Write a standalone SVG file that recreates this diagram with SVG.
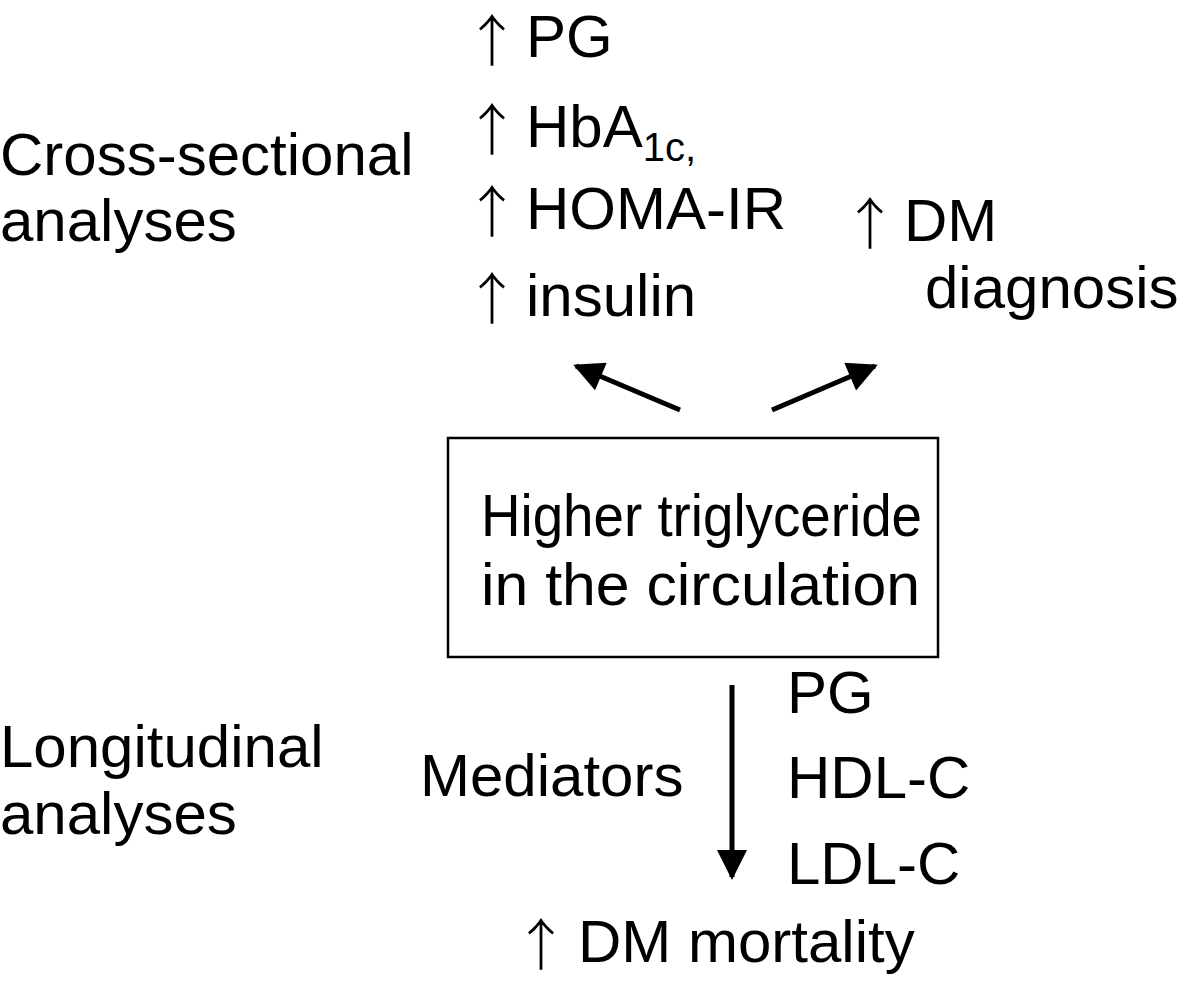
<svg xmlns="http://www.w3.org/2000/svg" width="1181" height="984" viewBox="0 0 1181 984">
<defs>
<style>
text{font-family:"Liberation Sans",Arial,sans-serif;font-size:60px;fill:#000}
.ar{font-family:"Noto Sans CJK JP","Noto Sans CJK SC",sans-serif;font-size:56px;font-weight:200;text-anchor:middle}
.sub{font-size:40px}
.conn{stroke:#000;stroke-width:5;fill:none}
</style>
<marker id="ah" viewBox="0 0 10 10" refX="9" refY="5" markerWidth="6.4" markerHeight="6" markerUnits="strokeWidth" orient="auto"><path d="M0,0L10,5L0,10Z" fill="#000"/></marker>
</defs>
<rect width="1181" height="984" fill="#fff"/>
<g id="cross-label"><text x="0" y="175">Cross-sectional</text><text x="0" y="241">analyses</text></g>
<g id="long-label"><text x="0" y="767">Longitudinal</text><text x="0" y="834">analyses</text></g>
<g id="markers-up">
<text class="ar" x="492" y="61">↑</text><text x="526" y="57">PG</text>
<text class="ar" x="492" y="150">↑</text><text x="526" y="147">HbA<tspan class="sub" dy="14">1c,</tspan></text>
<text class="ar" x="492" y="232">↑</text><text x="526" y="229">HOMA-IR</text>
<text class="ar" x="492" y="319">↑</text><text x="526" y="316">insulin</text>
</g>
<g id="dm-diag"><text class="ar" x="870" y="244">↑</text><text x="904" y="241">DM</text><text x="925" y="308">diagnosis</text></g>
<g id="tg"><rect x="448" y="438" width="490" height="219" fill="#fff" stroke="#000" stroke-width="2.5"/>
<text x="481" y="536" textLength="441" lengthAdjust="spacingAndGlyphs">Higher triglyceride</text><text x="481" y="605" textLength="439" lengthAdjust="spacingAndGlyphs">in the circulation</text></g>
<g id="mediators"><text x="420" y="796">Mediators</text></g>
<g id="mediator-list"><text x="787" y="713">PG</text><text x="787" y="798">HDL-C</text><text x="787" y="884">LDL-C</text></g>
<g id="dm-mort"><text class="ar" x="541" y="965">↑</text><text x="578" y="962">DM mortality</text></g>
<g id="connectors">
<line class="conn" x1="680" y1="410" x2="576" y2="366" marker-end="url(#ah)"/>
<line class="conn" x1="772" y1="410" x2="875" y2="366" marker-end="url(#ah)"/>
<line class="conn" x1="732" y1="685" x2="732" y2="877" marker-end="url(#ah)"/>
</g>
</svg>
